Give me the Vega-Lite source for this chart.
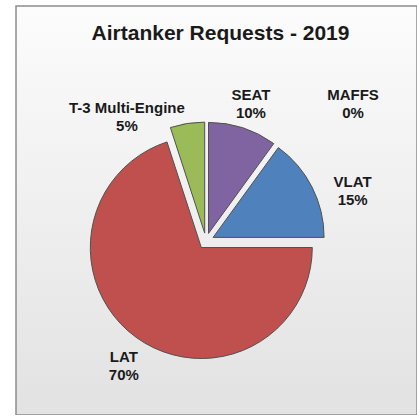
{
  "$schema": "https://vega.github.io/schema/vega-lite/v6.json",
  "autosize": {"type": "none"},
  "width": 401,
  "height": 409,
  "padding": {"left": 16, "top": 6, "right": 0, "bottom": 0},
  "background": "#ffffff",
  "config": {
    "view": {"stroke": null},
    "text": {"font": "Liberation Sans", "fontWeight": "bold", "fontSize": 15, "fill": "#1a1a1a", "lineHeight": 18},
    "arc": {"stroke": "#505050", "strokeWidth": 1}
  },
  "title": {
    "text": "Airtanker Requests - 2019",
    "font": "Liberation Sans",
    "fontWeight": "bold",
    "fontSize": 21,
    "color": "#1a1a1a",
    "anchor": "middle",
    "baseline": "middle",
    "dx": 4,
    "offset": -50
  },
  "data": {
    "values": [
      {"type": "MAFFS", "pct": 0},
      {"type": "SEAT", "pct": 10},
      {"type": "VLAT", "pct": 15},
      {"type": "LAT", "pct": 70},
      {"type": "T-3 Multi-Engine", "pct": 5}
    ]
  },
  "transform": [
    {"stack": "pct", "groupby": [], "as": ["s0", "s1"]},
    {"calculate": "(datum.s0 + datum.s1) / 2", "as": "mid"},
    {"calculate": "[datum.type, datum.pct + '%']", "as": "label"}
  ],
  "encoding": {
    "color": {
      "field": "type",
      "type": "nominal",
      "legend": null,
      "scale": {
        "domain": ["MAFFS", "SEAT", "VLAT", "LAT", "T-3 Multi-Engine"],
        "range": ["#f79646", "#8064a2", "#4f81bd", "#c0504d", "#9bbb59"]
      }
    }
  },
  "layer": [
    {
      "transform": [{"filter": "datum.type === 'MAFFS'"}],
      "mark": {
        "type": "rect",
        "x": 0, "y": 0, "x2": "width", "y2": "height",
        "x2Offset": 6,
        "stroke": "#8c8c8c",
        "strokeWidth": 1.5,
        "fill": {
          "gradient": "linear",
          "x1": 0, "y1": 0, "x2": 0, "y2": 1,
          "stops": [
            {"offset": 0, "color": "#fcfcfc"},
            {"offset": 1, "color": "#e2e2e2"}
          ]
        }
      },
      "encoding": {"color": {"value": null}}
    },
    {
      "transform": [{"filter": "datum.type === 'LAT'"}],
      "mark": {"type": "arc", "outerRadius": 111, "x": 190, "y": 235, "xOffset": -4.7, "yOffset": 6.5},
      "encoding": {
        "theta": {"field": "s0", "type": "quantitative", "scale": {"domain": [0, 100]}},
        "theta2": {"field": "s1"}
      }
    },
    {
      "transform": [{"filter": "datum.type === 'VLAT'"}],
      "mark": {"type": "arc", "outerRadius": 111, "x": 190, "y": 235, "xOffset": 7.1, "yOffset": -3.6},
      "encoding": {
        "theta": {"field": "s0", "type": "quantitative", "scale": {"domain": [0, 100]}},
        "theta2": {"field": "s1"}
      }
    },
    {
      "transform": [{"filter": "datum.type === 'SEAT'"}],
      "mark": {"type": "arc", "outerRadius": 111, "x": 190, "y": 235, "xOffset": 2.5, "yOffset": -7.6},
      "encoding": {
        "theta": {"field": "s0", "type": "quantitative", "scale": {"domain": [0, 100]}},
        "theta2": {"field": "s1"}
      }
    },
    {
      "transform": [{"filter": "datum.type === 'T-3 Multi-Engine'"}],
      "mark": {"type": "arc", "outerRadius": 111, "x": 190, "y": 235, "xOffset": -1.3, "yOffset": -7.9},
      "encoding": {
        "theta": {"field": "s0", "type": "quantitative", "scale": {"domain": [0, 100]}},
        "theta2": {"field": "s1"}
      }
    },
    {
      "transform": [{"filter": "datum.type === 'MAFFS'"}],
      "mark": {"type": "text", "radius": 150, "x": 190, "y": 235, "dx": 147, "dy": 4, "baseline": "middle"},
      "encoding": {
        "theta": {"field": "mid", "type": "quantitative", "scale": {"domain": [0, 100]}},
        "text": {"field": "label"},
        "color": {"value": "#1a1a1a"}
      }
    },
    {
      "transform": [{"filter": "datum.type === 'SEAT'"}],
      "mark": {"type": "text", "radius": 150, "x": 190, "y": 235, "dx": -1.4, "dy": -3.5, "baseline": "middle"},
      "encoding": {
        "theta": {"field": "mid", "type": "quantitative", "scale": {"domain": [0, 100]}},
        "text": {"field": "label"},
        "color": {"value": "#1a1a1a"}
      }
    },
    {
      "transform": [{"filter": "datum.type === 'VLAT'"}],
      "mark": {"type": "text", "radius": 150, "x": 190, "y": 235, "dx": 13, "dy": 9, "baseline": "middle"},
      "encoding": {
        "theta": {"field": "mid", "type": "quantitative", "scale": {"domain": [0, 100]}},
        "text": {"field": "label"},
        "color": {"value": "#1a1a1a"}
      }
    },
    {
      "transform": [{"filter": "datum.type === 'LAT'"}],
      "mark": {"type": "text", "radius": 150, "x": 190, "y": 235, "dx": 6, "dy": -5, "baseline": "middle"},
      "encoding": {
        "theta": {"field": "mid", "type": "quantitative", "scale": {"domain": [0, 100]}},
        "text": {"field": "label"},
        "color": {"value": "#1a1a1a"}
      }
    },
    {
      "transform": [{"filter": "datum.type === 'T-3 Multi-Engine'"}],
      "mark": {"type": "text", "radius": 150, "x": 190, "y": 235, "dx": -55.6, "dy": 15, "baseline": "middle"},
      "encoding": {
        "theta": {"field": "mid", "type": "quantitative", "scale": {"domain": [0, 100]}},
        "text": {"field": "label"},
        "color": {"value": "#1a1a1a"}
      }
    }
  ]
}
